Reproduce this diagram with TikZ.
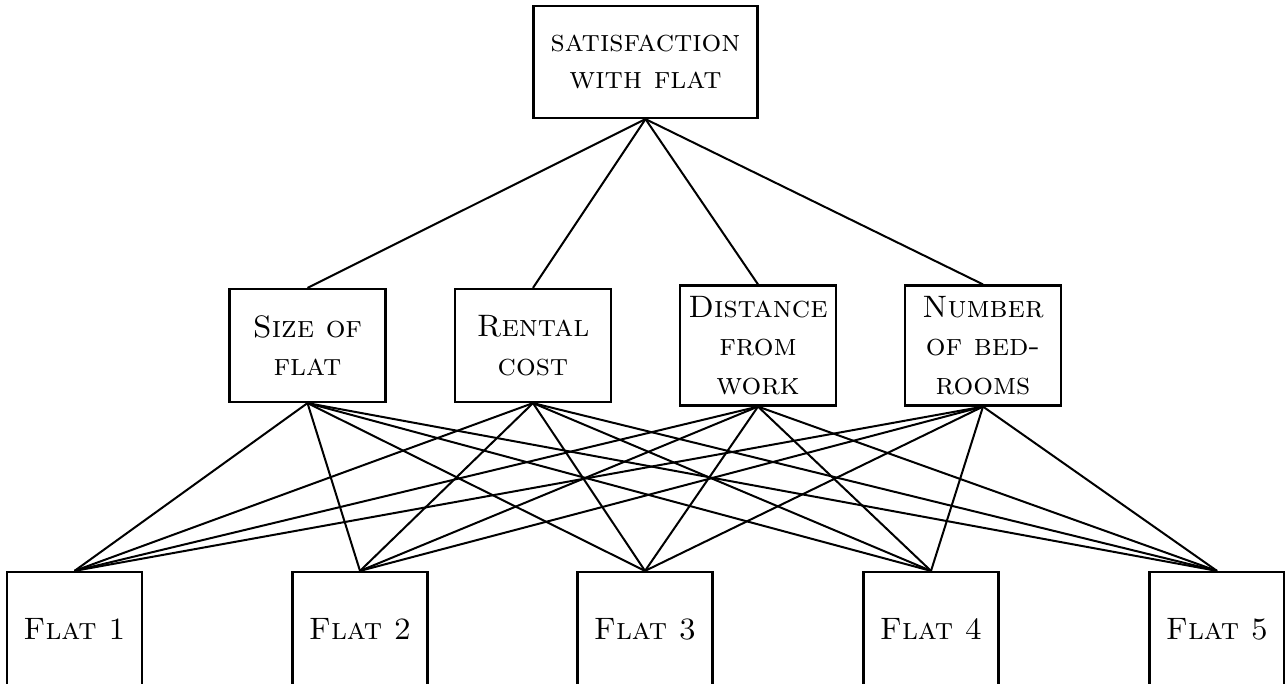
\documentclass[tikz,border=0pt]{standalone}
\usepackage{fontspec}
\begin{document}
\begin{tikzpicture}[x=1pt,y=-1pt,
  every node/.style={font=\fontsize{31}{37}\selectfont\scshape},
  box/.style={draw,line width=2.2pt,inner sep=0pt,align=center},
  goal/.style={box,minimum width=224pt,minimum height=112pt},
  crit/.style={box,minimum width=156pt,minimum height=113pt,
    font=\fontsize{31}{38.5}\selectfont\scshape},
  crittall/.style={crit,minimum height=120pt},
  alt/.style={box,minimum width=135pt,minimum height=114pt},
  link/.style={line width=2pt}]
\useasboundingbox (0,0) rectangle (1285,684);
\begin{scope}
\clip (0,0) rectangle (1285,684);
% goal
\node[goal] (g) at (645.5,62) {satisfaction\\with flat};
% criteria
\node[crit] (c1) at (307.5,345.5) {Size of\\flat};
\node[crit] (c2) at (533,345.5) {Rental\\cost};
\node[crittall] (c3) at (758,345.5) {Distance\\from\\work};
\node[crittall] (c4) at (983,345.5) {Number\\of bed-\\rooms};
% alternatives
\node[alt] (a1) at (74.5,629) {Flat 1};
\node[alt] (a2) at (360,629) {Flat 2};
\node[alt] (a3) at (645,629) {Flat 3};
\node[alt] (a4) at (931,629) {Flat 4};
\node[alt] (a5) at (1217,629) {Flat 5};
% goal to criteria
\foreach \c in {c1,c2,c3,c4} \draw[link] (g.south) -- (\c.north);
% criteria to alternatives
\foreach \c in {c1,c2,c3,c4}
  \foreach \a in {a1,a2,a3,a4,a5}
    \draw[link] (\c.south) -- (\a.north);
\end{scope}
\end{tikzpicture}
\end{document}
